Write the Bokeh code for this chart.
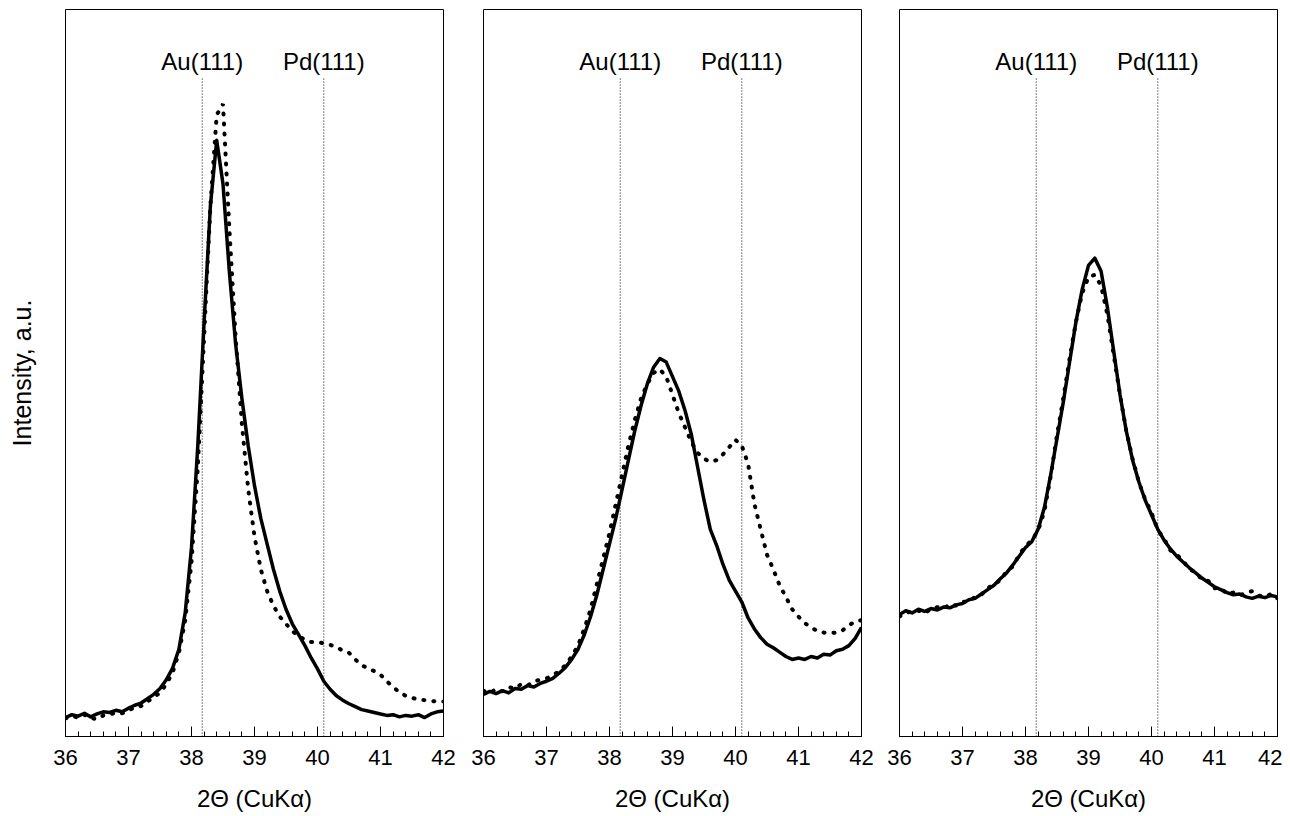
from bokeh.plotting import figure
from bokeh.layouts import row
from bokeh.models import Range1d, SingleIntervalTicker, FixedTicker
from bokeh.core.properties import value
from bokeh.embed import file_html
from bokeh.resources import INLINE

two_theta = [round(36 + 0.1 * i, 1) for i in range(61)]

p1_solid = [2.6, 3.0, 2.8, 3.2, 2.7, 3.1, 3.4, 3.3, 3.6, 3.4,
            3.9, 4.3, 4.6, 5.2, 5.8, 6.6, 7.8, 9.4, 12.0, 17.0,
            26.0, 40.0, 57.0, 73.0, 82.0, 76.0, 64.0, 54.0, 46.5, 40.0,
            34.5, 30.0, 26.5, 23.0, 20.0, 17.5, 15.5, 14.0, 12.5, 10.8,
            9.3, 7.6, 6.5, 5.6, 5.0, 4.5, 4.1, 3.7, 3.5, 3.3,
            3.1, 2.9, 3.0, 2.7, 2.9, 2.8, 3.0, 2.6, 3.1, 3.4, 3.5]
p1_dotted = [2.5, 2.8, 2.6, 3.0, 2.5, 2.4, 2.9, 3.0, 3.3, 3.2,
             3.6, 4.0, 4.2, 4.8, 5.4, 6.0, 7.2, 8.8, 11.5, 16.0,
             24.0, 37.0, 55.0, 73.0, 85.5, 87.0, 70.0, 55.0, 43.0, 34.0,
             27.5, 23.0, 20.0, 18.0, 16.5, 15.5, 14.5, 13.8, 13.3, 13.0,
             13.0, 12.8, 12.6, 12.3, 11.8, 11.5, 10.6, 9.8, 9.4, 9.0,
             8.5, 7.6, 6.8, 6.1, 5.6, 5.3, 5.1, 5.0, 4.9, 4.8, 4.8]

p2_solid = [5.8, 6.2, 5.9, 6.3, 6.0, 6.6, 6.5, 7.0, 6.8, 7.3,
            7.6, 8.0, 8.7, 9.5, 10.6, 12.0, 14.0, 16.5, 19.5, 23.0,
            26.5, 30.0, 34.0, 38.0, 42.0, 45.5, 48.5, 50.8, 52.0, 51.5,
            49.5, 47.5, 44.8, 41.5, 37.0, 32.5, 28.5, 26.3, 23.7, 21.5,
            20.0, 18.5, 16.3, 14.8, 13.6, 12.7, 12.2, 11.6, 11.0, 10.6,
            10.8, 10.6, 11.0, 10.8, 11.3, 11.2, 11.8, 12.0, 12.5, 13.5, 15.0]
p2_dotted = [6.3, 6.0, 6.5, 6.2, 6.8, 6.6, 7.2, 7.0, 7.6, 7.8,
             8.0, 8.4, 9.0, 9.8, 11.0, 12.5, 14.8, 17.5, 21.0, 24.5,
             28.0, 32.0, 36.0, 40.0, 43.5, 46.5, 48.5, 50.0, 50.5, 49.5,
             47.0, 44.5, 42.5, 40.5, 39.0, 38.2, 37.8, 38.0, 38.8, 39.8,
             40.8, 40.0, 37.5, 32.0, 28.5, 25.0, 23.0, 20.8, 19.2, 17.5,
             16.5, 15.6, 15.0, 14.5, 14.3, 14.2, 14.3, 14.6, 15.3, 15.8, 16.0]

p3_solid = [16.8, 17.3, 17.0, 17.5, 17.2, 17.6, 17.4, 17.8, 17.7, 18.1,
            18.3, 18.8, 19.0, 19.6, 20.2, 20.8, 21.7, 22.5, 23.6, 24.8,
            26.0, 26.8, 28.5, 31.5, 36.0, 41.0, 46.0, 51.5, 57.0, 61.5,
            64.8, 65.8, 64.0, 59.0, 53.0, 47.0, 42.0, 38.0, 35.0, 32.5,
            30.5, 28.5, 27.0, 25.8, 24.8, 24.0, 23.2, 22.5, 21.8, 21.2,
            20.6, 20.2, 19.8, 19.5, 19.6, 19.2, 19.0, 19.3, 19.1, 19.4, 19.2]
p3_dotted = [16.5, 17.0, 17.2, 17.3, 17.0, 17.5, 17.8, 17.6, 18.2, 18.0,
             18.5, 18.6, 19.2, 19.5, 20.4, 20.9, 21.5, 22.7, 23.4, 25.0,
             26.2, 27.0, 28.3, 31.0, 35.8, 41.5, 46.5, 52.0, 57.0, 61.0,
             63.2, 63.5, 62.0, 58.0, 52.5, 47.0, 42.0, 38.2, 35.0, 32.6,
             30.8, 28.4, 27.2, 25.6, 25.0, 24.2, 23.0, 22.6, 21.6, 21.4,
             20.4, 20.4, 19.6, 19.8, 19.4, 19.8, 20.0, 19.4, 19.2, 19.6, 19.0]

ref_positions = [38.17, 40.10]
ref_labels = ["Au(111)", "Pd(111)"]

x_label = "2\u0398 (CuK\u03b1)"
y_label = "Intensity, a.u."

FONT = "Liberation Sans"

panels = [(p1_solid, p1_dotted), (p2_solid, p2_dotted), (p3_solid, p3_dotted)]
borders = [(65, 20), (20, 18), (20, 5)]

figs = []
for i, ((solid, dotted), (bl, br)) in enumerate(zip(panels, borders)):
    p = figure(frame_width=378, frame_height=727,
               x_range=Range1d(36, 42), y_range=Range1d(0, 100),
               output_backend="svg", toolbar_location=None,
               y_axis_location="left" if i == 0 else None,
               min_border_left=bl, min_border_right=br,
               min_border_top=9, min_border_bottom=70)
    p.title.visible = False
    p.grid.visible = False
    p.outline_line_color = "black"
    p.outline_line_width = 1
    p.outline_line_alpha = 1
    p.background_fill_color = "white"
    p.border_fill_color = "white"

    xa = p.xaxis[0]
    xa.ticker = SingleIntervalTicker(interval=1, num_minor_ticks=5)
    xa.major_tick_in = 10
    xa.major_tick_out = 0
    xa.minor_tick_in = 5
    xa.minor_tick_out = 0
    xa.major_tick_line_color = "black"
    xa.minor_tick_line_color = "black"
    xa.axis_line_color = "black"
    xa.major_label_text_font = FONT
    xa.major_label_text_font_size = "22px"
    xa.major_label_text_color = "black"
    xa.major_label_standoff = 13
    xa.axis_label = x_label
    xa.axis_label_text_font = FONT
    xa.axis_label_text_font_size = "24px"
    xa.axis_label_text_font_style = "normal"
    xa.axis_label_text_color = "black"
    xa.axis_label_standoff = 17

    if i == 0:
        ya = p.yaxis[0]
        ya.ticker = FixedTicker(ticks=[])
        ya.major_tick_line_color = None
        ya.minor_tick_line_color = None
        ya.axis_line_color = None
        ya.major_label_text_font_size = "0px"
        ya.axis_label = y_label
        ya.axis_label_text_font = FONT
        ya.axis_label_text_font_size = "25px"
        ya.axis_label_text_font_style = "normal"
        ya.axis_label_text_color = "black"
        ya.axis_label_standoff = 30

    p.segment(x0=ref_positions, y0=[90.5] * 2, x1=ref_positions, y1=[0] * 2,
              line_color="black", line_width=1, line_dash="1 2")
    p.text(x=ref_positions, y=[92.8] * 2, text=ref_labels,
           text_align="center", text_baseline="middle",
           text_font=value(FONT), text_font_size="24px", text_color="black")

    p.line(two_theta, dotted, line_color="black", line_width=4,
           line_dash="1 9", line_cap="round")
    p.line(two_theta, solid, line_color="black", line_width=3.5,
           line_join="round")
    figs.append(p)

layout = row(*figs)
open("out.html", "w").write(file_html(layout, INLINE))
